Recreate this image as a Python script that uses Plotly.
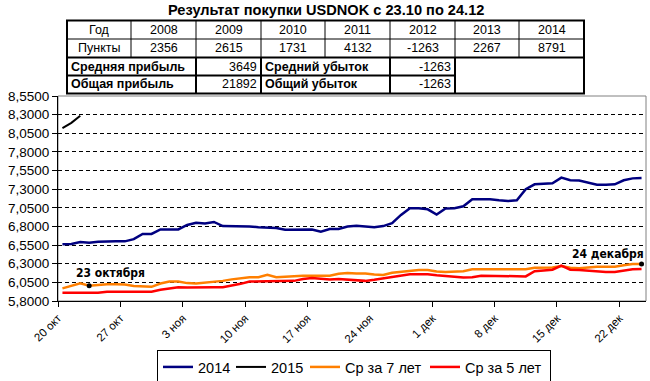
import pandas as pd
import plotly.graph_objects as go

# ---------------- data ----------------
dates = pd.date_range("2014-10-20", "2014-12-24", freq="D")

usd_2014 = [6.56, 6.565, 6.59, 6.58, 6.595, 6.60, 6.60, 6.60, 6.63, 6.70,
            6.70, 6.76, 6.76, 6.76, 6.82, 6.85, 6.84, 6.86, 6.805, 6.805,
            6.805, 6.80, 6.79, 6.79, 6.78, 6.756, 6.756, 6.756, 6.76, 6.73,
            6.765, 6.765, 6.80, 6.81, 6.80, 6.79, 6.805, 6.845, 6.955, 7.045,
            7.045, 7.03, 6.96, 7.04, 7.045, 7.07, 7.165, 7.165, 7.165, 7.15,
            7.14, 7.15, 7.30, 7.365, 7.37, 7.38, 7.455, 7.42, 7.415, 7.385,
            7.36, 7.36, 7.365, 7.42, 7.445, 7.45]

usd_2015 = [8.12, 8.19, 8.285]

avg_7y = [5.97, 6.00, 6.037, 6.005, 6.015, 6.025, 6.025, 6.02, 6.00, 5.99,
          5.99, 6.035, 6.06, 6.06, 6.04, 6.035, 6.045, 6.06, 6.07, 6.09,
          6.105, 6.12, 6.12, 6.15, 6.12, 6.13, 6.14, 6.14, 6.14, 6.14,
          6.14, 6.165, 6.175,
          6.17, 6.17, 6.155, 6.15, 6.18, 6.19, 6.21, 6.215, 6.215, 6.195,
          6.19, 6.19, 6.20, 6.225, 6.225, 6.225, 6.22, 6.215, 6.215, 6.225,
          6.245, 6.245, 6.25, 6.27, 6.245, 6.24, 6.25, 6.26, 6.26, 6.26,
          6.28, 6.295, 6.295]

avg_5y = [5.91, 5.91, 5.91, 5.91, 5.91, 5.925, 5.925, 5.925, 5.925, 5.925,
          5.925, 5.95, 5.97, 5.985, 5.98, 5.985, 5.985, 5.985, 5.985, 6.005,
          6.03, 6.06, 6.06, 6.06, 6.07, 6.07, 6.07, 6.095, 6.11, 6.10,
          6.09, 6.095, 6.09,
          6.075, 6.07, 6.085, 6.105, 6.12, 6.15, 6.16, 6.16, 6.16, 6.145,
          6.14, 6.125, 6.115, 6.12, 6.14, 6.14, 6.14, 6.14, 6.13, 6.13,
          6.20, 6.215, 6.22, 6.275, 6.22, 6.215, 6.205, 6.19, 6.19, 6.19,
          6.21, 6.225, 6.23]

tick_dates = ["2014-10-20", "2014-10-27", "2014-11-03", "2014-11-10", "2014-11-17",
              "2014-11-24", "2014-12-01", "2014-12-08", "2014-12-15", "2014-12-22"]
tick_labels = ["20 окт", "27 окт", "3 ноя", "10 ноя", "17 ноя",
               "24 ноя", "1 дек", "8 дек", "15 дек", "22 дек"]

title_text = "Результат покупки USDNOK с 23.10 по 24.12"
table_years = ["2008", "2009", "2010", "2011", "2012", "2013", "2014"]
table_points = [2356, 2615, 1731, 4132, -1263, 2267, 8791]
avg_profit, total_profit = 3649, 21892
avg_loss, total_loss = -1263, -1263

mark_dates = ["2014-10-23", "2014-12-24"]
mark_labels = ["23 октября", "24 декабря"]

# ---------------- geometry helpers ----------------
W, H = 650, 381
L, R, T, B = 58, 646, 96, 301


def px(x):
    return (x - L) / (R - L)


def py(y):
    return (B - y) / (B - T)


FONT = "Liberation Sans, Arial, sans-serif"
ANN_FONT = "DejaVu Sans Condensed, DejaVu Sans, sans-serif"
half_day = pd.Timedelta(hours=12)

fig = go.Figure()
fig.add_trace(go.Scatter(x=dates, y=usd_2014, name="2014", mode="lines", legendwidth=28,
                         line=dict(color="#000080", width=2.5)))
fig.add_trace(go.Scatter(x=dates[:len(usd_2015)], y=usd_2015, name="2015", mode="lines", legendwidth=29,
                         line=dict(color="#000000", width=2)))
fig.add_trace(go.Scatter(x=dates, y=avg_7y, name="Ср за 7 лет", mode="lines", legendwidth=75,
                         line=dict(color="#FF7F00", width=2.5)))
fig.add_trace(go.Scatter(x=dates, y=avg_5y, name="Ср за 5 лет", mode="lines", legendwidth=80,
                         line=dict(color="#FF0000", width=2.5)))

# marker dots on the 7-year average
s7 = pd.Series(avg_7y, index=dates)
mk_x = [pd.Timestamp(d) for d in mark_dates]
mk_y = [s7[pd.Timestamp(d)] for d in mark_dates]
fig.add_trace(go.Scatter(x=mk_x, y=mk_y, mode="markers", showlegend=False,
                         marker=dict(color="black", size=5)))

annotations = []
annotations.append(dict(x=mk_x[0], y=mk_y[0], xref="x", yref="y", text="<b>" + mark_labels[0] + "</b>",
                        showarrow=False, xanchor="center", yanchor="middle", xshift=21, yshift=13,
                        font=dict(family=ANN_FONT, size=12, color="black")))
annotations.append(dict(x=mk_x[1], y=mk_y[1], xref="x", yref="y", text="<b>" + mark_labels[1] + "</b>",
                        showarrow=False, xanchor="right", yanchor="middle", xshift=4, yshift=10,
                        font=dict(family=ANN_FONT, size=12, color="black")))

# title
annotations.append(dict(x=px(326), y=py(10), xref="paper", yref="paper", text="<b>" + title_text + "</b>",
                        showarrow=False, xanchor="center", yanchor="middle",
                        font=dict(family=FONT, size=14.6, color="black")))

# ---------------- table ----------------
cols = [67, 131, 196, 261, 325, 390, 455, 519, 584]
rows = [20.5, 39, 57.5, 75.5, 93.5]
shapes = []


def hline(x0, x1, y, w):
    shapes.append(dict(type="line", xref="paper", yref="paper", x0=px(x0), x1=px(x1),
                       y0=py(y), y1=py(y), line=dict(color="black", width=w)))


def vline(x, y0, y1, w):
    shapes.append(dict(type="line", xref="paper", yref="paper", x0=px(x), x1=px(x),
                       y0=py(y0), y1=py(y1), line=dict(color="black", width=w)))


def text(x, y, s, anchor="center", bold=False):
    annotations.append(dict(x=px(x), y=py(y), xref="paper", yref="paper",
                            text=("<b>%s</b>" % s) if bold else s, showarrow=False,
                            xanchor=anchor, yanchor="middle",
                            font=dict(family=FONT, size=12.5, color="black")))


# thin inner lines rows 1-2
hline(cols[0], cols[-1], rows[1], 1)
for c in cols[1:-1]:
    vline(c, rows[0], rows[2], 1)
# thick lines rows 3-4
hline(cols[0], cols[-1], rows[2], 2)
hline(cols[0], cols[6], rows[3], 2)
for c in [cols[2], cols[3], cols[5], cols[6]]:
    vline(c, rows[2], rows[4], 2)
# outer border
shapes.append(dict(type="rect", xref="paper", yref="paper", x0=px(cols[0]), x1=px(cols[-1]),
                   y0=py(rows[0]), y1=py(rows[4]), line=dict(color="black", width=2)))

rc = [(rows[i] + rows[i + 1]) / 2 for i in range(4)]
text((cols[0] + cols[1]) / 2, rc[0], "Год")
text((cols[0] + cols[1]) / 2, rc[1], "Пункты")
for i, (yr, pt) in enumerate(zip(table_years, table_points)):
    cx = (cols[i + 1] + cols[i + 2]) / 2
    text(cx, rc[0], yr)
    text(cx, rc[1], str(pt))
text(cols[0] + 2, rc[2], "Средняя прибыль", "left", True)
text(cols[0] + 2, rc[3], "Общая прибыль", "left", True)
text(cols[3] - 2, rc[2], str(avg_profit), "right")
text(cols[3] - 2, rc[3], str(total_profit), "right")
text(cols[3] + 2, rc[2], "Средний убыток", "left", True)
text(cols[3] + 2, rc[3], "Общий убыток", "left", True)
text(cols[6] - 2, rc[2], str(avg_loss), "right")
text(cols[6] - 2, rc[3], str(total_loss), "right")

# plot area border (gray)
shapes.append(dict(type="rect", xref="paper", yref="paper", x0=0, x1=1, y0=0, y1=1,
                   line=dict(color="#808080", width=1), layer="below"))

fig.update_layout(
    width=W, height=H,
    margin=dict(l=L, r=W - R, t=T, b=H - B, autoexpand=False),
    paper_bgcolor="white", plot_bgcolor="white",
    separators=", ",
    font=dict(family=FONT, color="black"),
    showlegend=True,
    hovermode=False,
    legend=dict(orientation="h", x=354 / W, y=1 - 350 / H, xref="container", yref="container",
                xanchor="center", yanchor="top",
                bordercolor="black", borderwidth=1, bgcolor="white",
                font=dict(family=FONT, size=14.5, color="black"),
                itemwidth=30, tracegroupgap=0),
    shapes=shapes,
    annotations=annotations,
)

fig.update_xaxes(
    range=[dates[0] - half_day, pd.Timestamp("2014-12-24 12:00")],
    tickvals=[pd.Timestamp(d) - half_day for d in tick_dates],
    ticktext=tick_labels,
    tickangle=-45,
    tickfont=dict(family=FONT, size=11.5, color="black"),
    ticks="outside", ticklen=5, tickcolor="black",
    showline=True, linecolor="black", linewidth=1,
    showgrid=False, zeroline=False,
)
fig.update_yaxes(
    range=[5.8, 8.55], dtick=0.25, tick0=5.8,
    tickformat=".4f",
    tickfont=dict(family=FONT, size=13.5, color="black"),
    ticks="outside", ticklen=5, tickcolor="black",
    showline=True, linecolor="black", linewidth=1,
    showgrid=True, gridcolor="black", gridwidth=1, griddash="4px,3px",
    zeroline=False,
)

fig.write_html("out.html", config={"displayModeBar": False},
               post_script="document.body.style.margin='0';document.body.style.overflow='hidden';")
